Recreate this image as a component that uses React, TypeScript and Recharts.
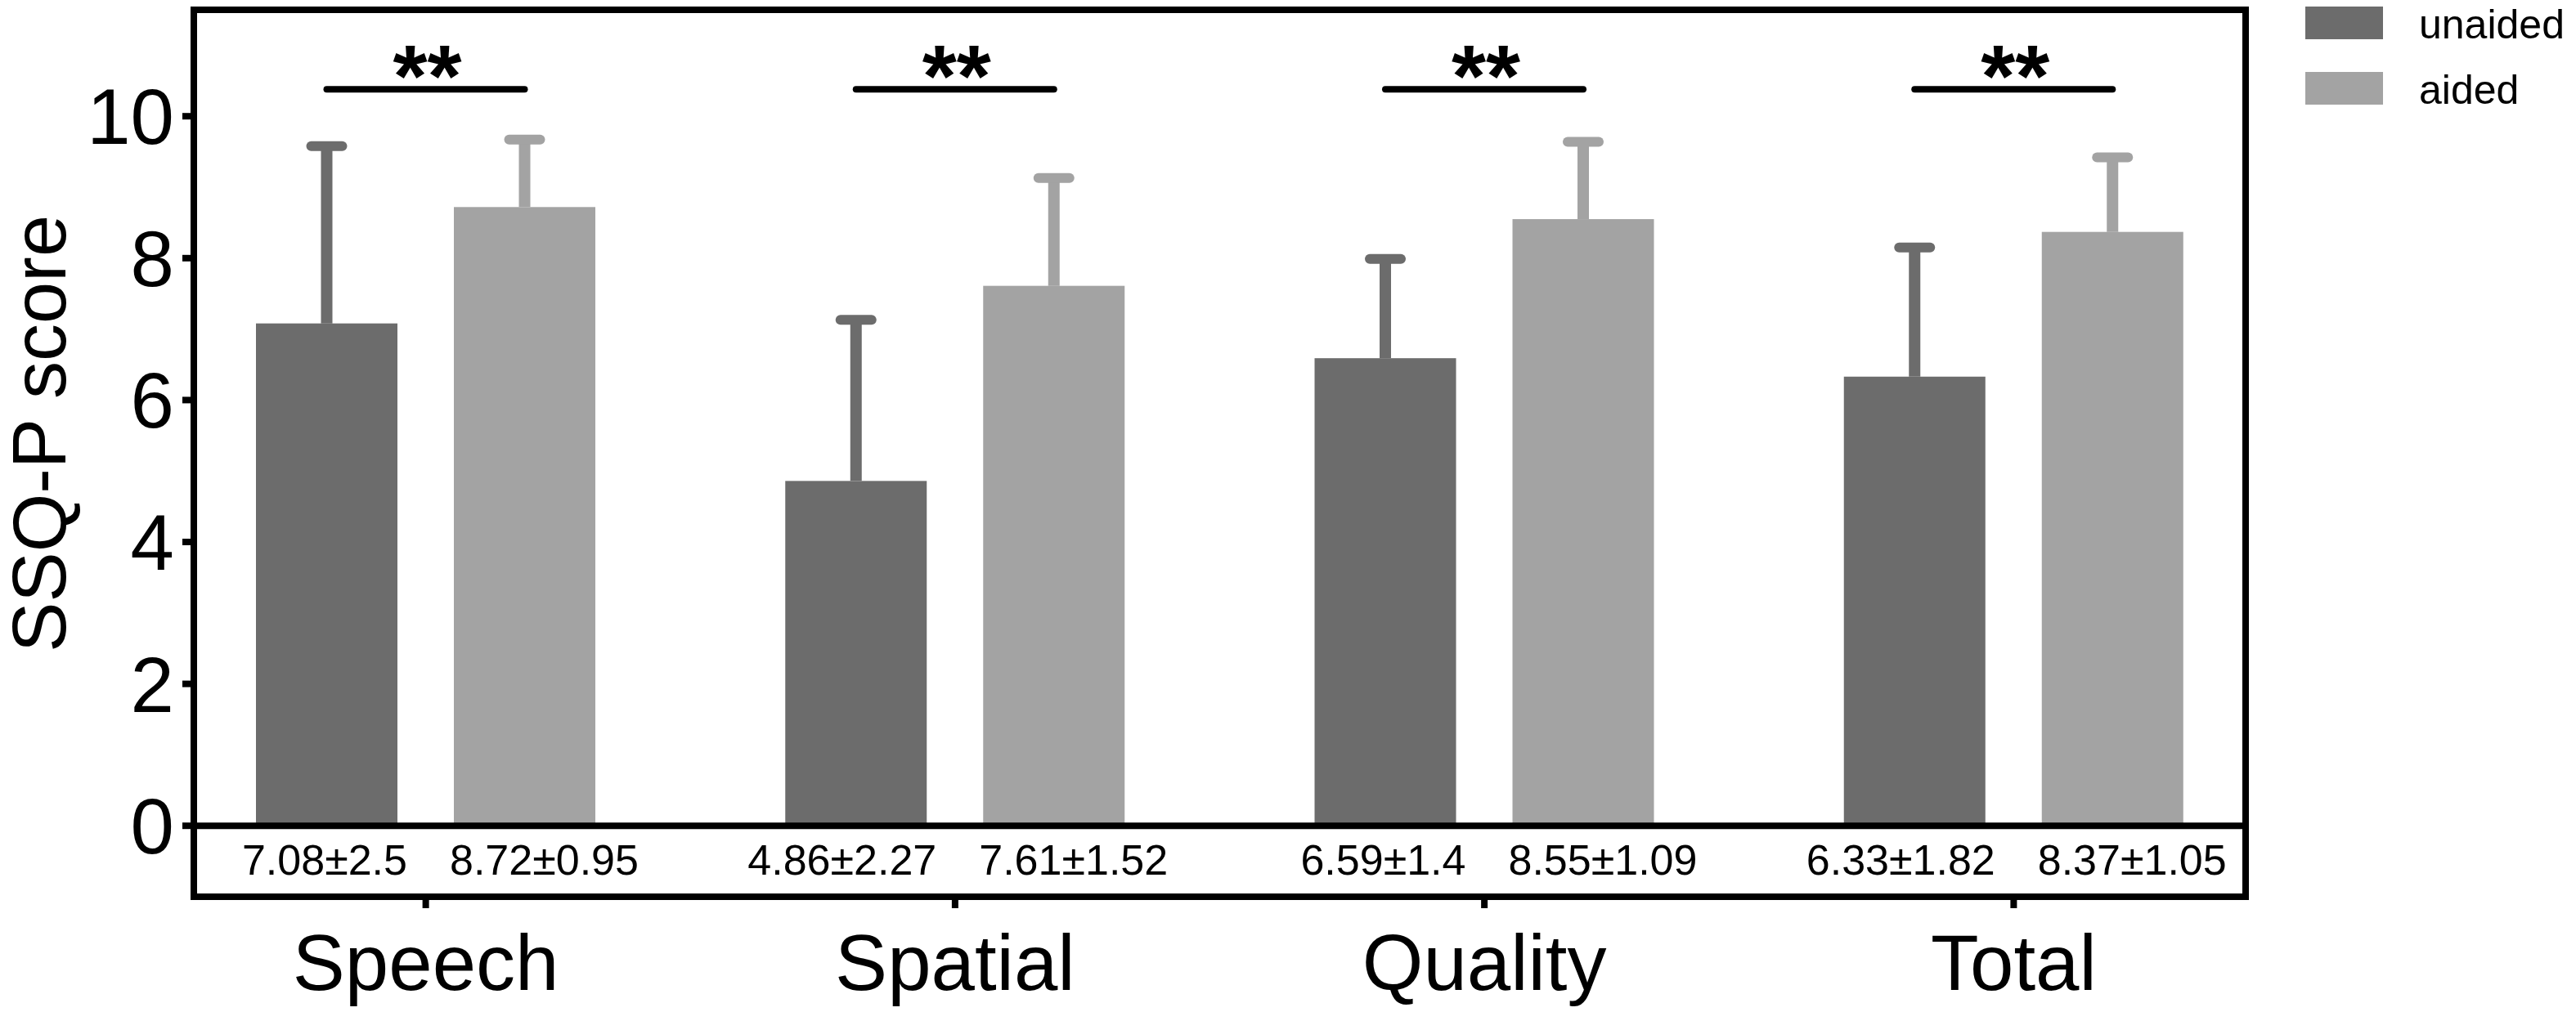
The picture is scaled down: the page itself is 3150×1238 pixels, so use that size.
import React from 'react'
import { BarChart, Bar, XAxis, YAxis, ReferenceLine, Legend } from 'recharts'

// SSQ-P scores, unaided vs aided (mean ± SD)
const categories = ['Speech', 'Spatial', 'Quality', 'Total']
const seriesNames = ['unaided', 'aided']
const unaidedMean = [7.08, 4.86, 6.59, 6.33]
const unaidedSd = [2.5, 2.27, 1.4, 1.82]
const aidedMean = [8.72, 7.61, 8.55, 8.37]
const aidedSd = [0.95, 1.52, 1.09, 1.05]
const significance = ['**', '**', '**', '**']
const yTicks = [0, 2, 4, 6, 8, 10]
const yDomain = [-1, 11.5]
const bracketLevel = 10.38

const data = categories.map((name, i) => ({
  name,
  unaided: unaidedMean[i],
  unaidedSd: unaidedSd[i],
  aided: aidedMean[i],
  aidedSd: aidedSd[i],
  sig: significance[i],
}))

const FONT = '"Liberation Sans", Arial, Helvetica, sans-serif'
const DARK = '#6c6c6c'
const LIGHT = '#a3a3a3'
const BAR_SIZE = 173
const BAR_GAP = 69
const frameLine = { stroke: '#000', strokeWidth: 8, strokeLinecap: 'square' as const }

// bar + one-sided error bar + "mean±sd" text under the zero line
function BarWithError(props: any) {
  const { x, y, width, height, fill, mean, sd, bracketText, side } = props
  if (!height || !mean) return null
  const px = height / mean
  const cx = x + width / 2
  const zeroY = y + height
  const capY = y - sd * px

  // the two values of a group meet in the middle, like table cells
  const labelX = side === 'left' ? x + width + 12 : x - 5
  const labelAnchor = side === 'left' ? 'end' : 'start'

  let bracket = null
  if (bracketText) {
    const bY = zeroY - bracketLevel * px
    const leftCx = cx - (width + BAR_GAP)
    bracket = (
      <g>
        <line x1={leftCx} y1={bY} x2={cx} y2={bY} stroke="#000" strokeWidth={8} strokeLinecap="round" />
        <text
          x={(leftCx + cx) / 2 + 2}
          y={bY + 21}
          textAnchor="middle"
          fontSize={108}
          fontWeight="bold"
          fontFamily={FONT}
          fill="#000"
        >
          {bracketText}
        </text>
      </g>
    )
  }

  return (
    <g>
      <rect x={x} y={y} width={width} height={height} fill={fill} />
      <line x1={cx} y1={y} x2={cx} y2={capY} stroke={fill} strokeWidth={14} />
      <line x1={cx - 19} y1={capY} x2={cx + 19} y2={capY} stroke={fill} strokeWidth={12} strokeLinecap="round" />
      <text x={labelX} y={zeroY + 60} textAnchor={labelAnchor} fontSize={52} fontFamily={FONT} fill="#000">
        {`${mean}±${sd}`}
      </text>
      {bracket}
    </g>
  )
}

function LegendContent({ payload }: any) {
  const items = [...(payload ?? [])].sort(
    (a: any, b: any) => seriesNames.indexOf(a.value) - seriesNames.indexOf(b.value)
  )
  return (
    <svg width={331} height={140} style={{ display: 'block' }}>
      {items.map((e: any, i: number) => (
        <g key={e.value}>
          <rect x={0} y={i * 80} width={95} height={40} fill={e.color} />
          <text x={139} y={i * 80 + 39} fontSize={50} fontFamily={FONT} fill="#000">
            {e.value}
          </text>
        </g>
      ))}
    </svg>
  )
}

function YLabel(p: any) {
  const vb = p.viewBox
  const lx = vb.x + 80
  const ly = vb.y + vb.height / 2 - 24
  return (
    <text
      x={lx}
      y={ly}
      transform={`rotate(-90, ${lx}, ${ly})`}
      textAnchor="middle"
      fontSize={92}
      fontFamily={FONT}
      fill="#000"
    >
      SSQ-P score
    </text>
  )
}

export default function App() {
  return (
    <div style={{ position: 'absolute', left: 0, top: 0, background: '#fff' }}>
      <BarChart
        width={3150}
        height={1238}
        data={data}
        margin={{ top: 12, right: 403, bottom: 0, left: 0 }}
        barSize={BAR_SIZE}
        barGap={BAR_GAP}
      >
        <XAxis
          dataKey="name"
          height={141}
          interval={0}
          padding={{ left: -40, right: -40 }}
          tickSize={14}
          tickMargin={32}
          axisLine={frameLine}
          tickLine={{ stroke: '#000', strokeWidth: 8 }}
          tick={{ fill: '#000', fontSize: 96, fontFamily: FONT }}
        />
        <YAxis
          type="number"
          domain={yDomain}
          ticks={yTicks}
          allowDataOverflow
          width={237}
          tickSize={14}
          tickMargin={10}
          axisLine={frameLine}
          tickLine={{ stroke: '#000', strokeWidth: 8 }}
          tick={{ fill: '#000', fontSize: 96, fontFamily: FONT }}
          label={{ value: 'SSQ-P score', content: YLabel }}
        />
        <YAxis
          yAxisId="frame"
          orientation="right"
          type="number"
          domain={yDomain}
          width={1}
          tick={false}
          tickLine={false}
          axisLine={frameLine}
        />
        <ReferenceLine y={yDomain[1]} {...frameLine} />
        <Bar
          dataKey="unaided"
          name="unaided"
          fill={DARK}
          isAnimationActive={false}
          shape={(p: any) => (
            <BarWithError {...p} mean={p.payload.unaided} sd={p.payload.unaidedSd} bracketText={null} side="left" />
          )}
        />
        <Bar
          dataKey="aided"
          name="aided"
          fill={LIGHT}
          isAnimationActive={false}
          shape={(p: any) => (
            <BarWithError
              {...p}
              mean={p.payload.aided}
              sd={p.payload.aidedSd}
              bracketText={p.payload.sig}
              side="right"
            />
          )}
        />
        <ReferenceLine y={0} {...frameLine} />
        <Legend
          layout="horizontal"
          align="center"
          verticalAlign="middle"
          wrapperStyle={{ top: 8, left: 2819, width: 331 }}
          content={LegendContent}
        />
      </BarChart>
    </div>
  )
}
